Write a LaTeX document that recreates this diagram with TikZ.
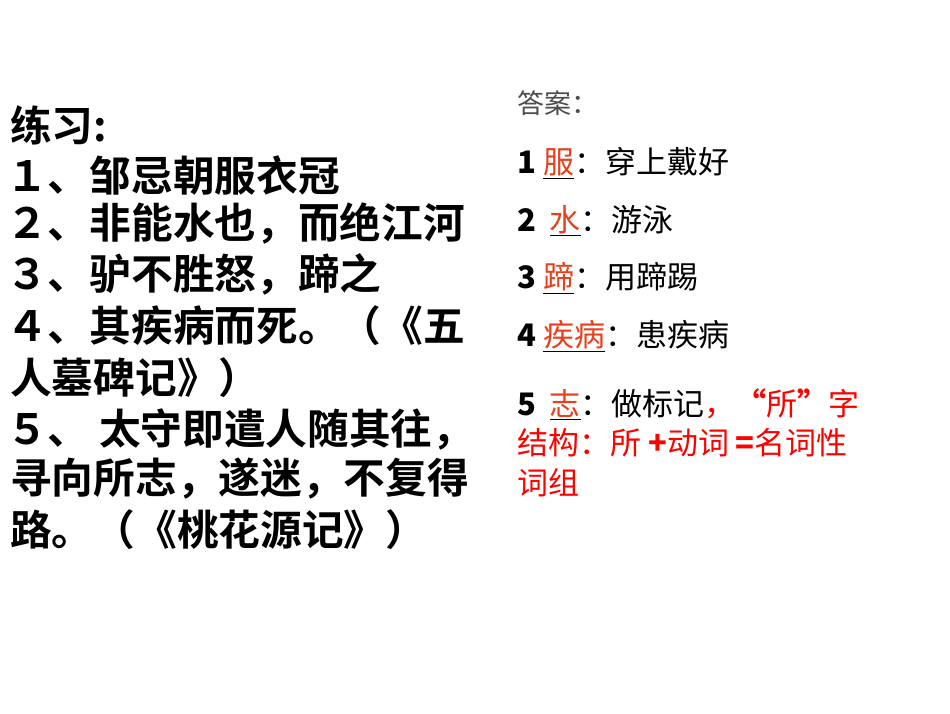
\documentclass[tikz,border=0pt]{standalone}
\usepackage{fontspec}
\setmainfont{Liberation Serif}
\newfontfamily\cjk{Noto Sans CJK SC}
\newfontfamily\cjkb{Noto Sans CJK SC Bold}
\definecolor{ored}{HTML}{E8401C}
\definecolor{pred}{HTML}{FF0000}
\tikzset{
  lt/.style={anchor=west,inner sep=0pt,font=\cjkb\fontsize{41.7}{41.7}\selectfont},
  rt/.style={anchor=west,inner sep=0pt,font=\cjk\fontsize{31}{31}\selectfont},
}
\newcommand{\ul}[1]{\underline{\textcolor{ored}{#1}}}
\begin{document}
\begin{tikzpicture}[x=1pt,y=-1pt]
\useasboundingbox[fill=white] (0,0) rectangle (950,713);
\node[lt] (l1) at (10,125) {练习:};
\node[lt] (l2) at (6,175) {１、邹忌朝服衣冠};
\node[lt] (l3) at (6,224) {２、非能水也，而绝江河};
\node[lt] (l4) at (6,274) {３、驴不胜怒，蹄之};
\node[lt] (l5) at (6,326) {４、其疾病而死。（《五};
\node[lt] (l6) at (10,378) {人墓碑记》）};
\node[lt] (l7) at (6,429) {５、 太守即遣人随其往，};
\node[lt] (l8) at (10,479) {寻向所志，遂迷，不复得};
\node[lt] (l9) at (10,530) {路。（《桃花源记》）};
\node[rt,text=black!70,font=\cjk\fontsize{27}{27}\selectfont] (a0) at (517,103) {答案：};
\node[rt] (a1) at (517,163) {\textbf{1} \ul{服}：穿上戴好};
\node[rt] (a2) at (517,221) {\textbf{2}\ \ \ul{水}：游泳};
\node[rt] (a3) at (517,278) {\textbf{3} \ul{蹄}：用蹄踢};
\node[rt] (a4) at (517,336) {\textbf{4} \ul{疾病}：患疾病};
\node[rt] (a5) at (517,404) {\textbf{5}\ \ \ul{志}：做标记\textcolor{pred}{，\textbf{“}所\textbf{”}字}};
\node[rt,text=pred] (a6) at (517,443) {结构：所 \textbf{+}动词 \textbf{=}名词性};
\node[rt,text=pred] (a7) at (517,483) {词组};
\end{tikzpicture}
\end{document}
